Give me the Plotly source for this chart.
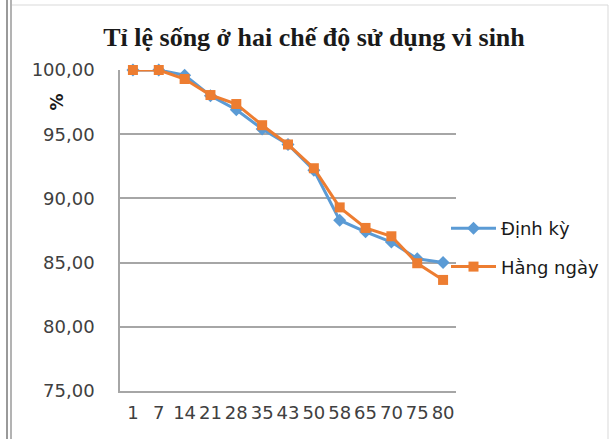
import plotly.graph_objects as go

# Days of observation (category axis)
days = ["1", "7", "14", "21", "28", "35", "43", "50", "58", "65", "70", "75", "80"]

# Survival rate (%) for the two regimes
dinh_ky = [100.0, 100.0, 99.6, 98.0, 96.9, 95.4, 94.2, 92.2, 88.3, 87.4, 86.6, 85.3, 85.0]
hang_ngay = [100.0, 100.0, 99.3, 98.05, 97.35, 95.7, 94.2, 92.35, 89.3, 87.7, 87.05, 84.95, 83.65]

y_ticks = [75, 80, 85, 90, 95, 100]

# Plot area in pixels (figure is 609 x 439)
W, H = 609, 439
L, R, T, B = 120, 456, 70, 391


def px_x(p):
    return (p - L) / (R - L)


def px_y(p):
    return (B - p) / (B - T)


fig = go.Figure()

fig.add_trace(go.Scatter(
    x=days, y=dinh_ky, name="Định kỳ", mode="lines+markers",
    line=dict(color="#5B9BD5", width=3),
    marker=dict(symbol="diamond", size=10, color="#5B9BD5"),
    cliponaxis=False, legendgroup="a",
))
fig.add_trace(go.Scatter(
    x=days, y=hang_ngay, name="Hằng ngày", mode="lines+markers",
    line=dict(color="#ED7D31", width=3),
    marker=dict(symbol="square", size=10, color="#ED7D31"),
    cliponaxis=False, legendgroup="b",
))

tick_font = dict(family="DejaVu Sans", size=18, color="#404040")

fig.update_layout(
    width=W, height=H,
    margin=dict(l=L, r=W - R, t=T, b=H - B, pad=0, autoexpand=False),
    paper_bgcolor="white", plot_bgcolor="white",
    separators=",.",
    title=dict(
        text="<b>Tỉ lệ sống ở hai chế độ sử dụng vi sinh</b>",
        font=dict(family="Liberation Serif", size=26, color="#1a1a1a"),
        x=px_x(314), xref="paper", xanchor="center",
        y=1 - 37 / H, yref="container", yanchor="middle",
    ),
    xaxis=dict(
        type="category", range=[-0.5, len(days) - 0.5],
        showgrid=False, showline=True, linecolor="#a6a6a6", linewidth=1.5,
        ticks="", tickfont=tick_font, ticklabelstandoff=5, tickangle=0,
    ),
    yaxis=dict(
        range=[75, 100], tickvals=y_ticks, tickformat=".2f",
        showgrid=True, gridcolor="#a6a6a6", gridwidth=1.5,
        showline=True, linecolor="#a6a6a6", linewidth=1.5,
        ticks="", tickfont=tick_font, ticklabelstandoff=20, zeroline=False,
    ),
    legend=dict(
        x=px_x(446), y=px_y(210), xanchor="left", yanchor="top",
        font=dict(family="DejaVu Sans", size=18, color="#1a1a1a"),
        traceorder="grouped", tracegroupgap=12, itemwidth=45,
        bgcolor="rgba(0,0,0,0)",
    ),
    annotations=[dict(
        text="<b>%</b>", x=px_x(44), y=px_y(92), xref="paper", yref="paper",
        showarrow=False, textangle=-90,
        font=dict(family="DejaVu Sans", size=17, color="#1a1a1a"),
    )],
    shapes=[
        # chart frame remnants
        dict(type="line", xref="paper", yref="paper", x0=px_x(7), x1=px_x(7),
             y0=px_y(0), y1=px_y(H), line=dict(color="#9a9a9a", width=2)),
        dict(type="line", xref="paper", yref="paper", x0=px_x(11), x1=px_x(11),
             y0=px_y(0), y1=px_y(H), line=dict(color="#9a9a9a", width=1.5)),
        dict(type="line", xref="paper", yref="paper", x0=px_x(12), x1=px_x(608),
             y0=px_y(5), y1=px_y(5), line=dict(color="#d9d9d9", width=1)),
        dict(type="line", xref="paper", yref="paper", x0=px_x(608), x1=px_x(608),
             y0=px_y(5), y1=px_y(H), line=dict(color="#d9d9d9", width=1)),
    ],
)

# drop the page's default body margin so the figure sits at (0, 0)
fig.write_html("out.html", config={"displayModeBar": False},
               post_script="document.body.style.margin='0';")
